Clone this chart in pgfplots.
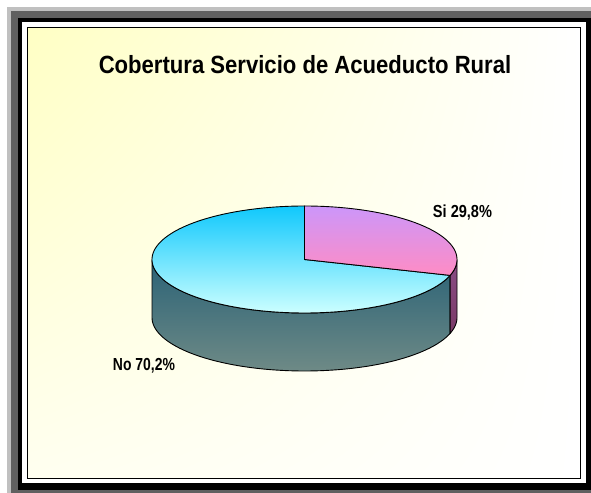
\documentclass[border=0pt]{standalone}
\usepackage{pgfplots}
\pgfplotsset{compat=1.18}
\usepackage{pgfplotstable}
\usetikzlibrary{shadings}
\usepackage{fontspec}
\setmainfont{Liberation Sans}

\definecolor{frLight}{HTML}{C0C0C0}
\definecolor{frDark}{HTML}{606060}
\definecolor{bgYellow}{HTML}{FFFFC4}
\definecolor{bgLow}{HTML}{FFFFF0}
\definecolor{siTop}{HTML}{CC96FA}
\definecolor{siBot}{HTML}{FF8CC4}
\definecolor{noTop}{HTML}{10C8FC}
\definecolor{noBot}{HTML}{CCFFFF}
\definecolor{sideTop}{HTML}{2A6276}
\definecolor{sideBot}{HTML}{6E8A86}
\definecolor{siSideTop}{HTML}{8A4C86}
\definecolor{siSideBot}{HTML}{7A3A66}

\pgfplotstableread{
label value
Si 29.8
No 70.2
}\piedata
\pgfplotstablegetelem{0}{value}\of\piedata \edef\siv{\pgfplotsretval}
\pgfplotstablegetelem{1}{value}\of\piedata \edef\nov{\pgfplotsretval}
% pie geometry (pixels, y upward)
\def\cx{304.5}
\def\cy{233.5}
\def\rx{152.5}
\def\ry{53.5}
\def\dep{58}
\pgfmathsetmacro{\aSplit}{90-3.6*\siv}
\pgfmathsetmacro{\aNoEnd}{90+3.6*\nov}
\pgfmathsetmacro{\cyb}{\cy-\dep}
\pgfmathsetmacro{\xs}{\cx+\rx*cos(\aSplit)}
\pgfmathsetmacro{\ysT}{\cy+\ry*sin(\aSplit)}
\pgfmathsetmacro{\xR}{\cx+\rx}

\begin{document}%
\begin{tikzpicture}
\begin{axis}[
  width=591bp, height=493bp, scale only axis,
  xmin=0, xmax=591, ymin=0, ymax=493,
  enlargelimits=false, hide axis, clip=false,
]
% frame
\fill[white] (axis cs:0,0) rectangle (axis cs:591,493);
\fill[frLight] (axis cs:7,0) rectangle (axis cs:591,486);
\fill[frDark] (axis cs:11,0) rectangle (axis cs:591,482);
\fill[black] (axis cs:18,3) rectangle (axis cs:591,475);
\fill[white] (axis cs:22,9.5) rectangle (axis cs:586,471);
\shade[upper left=bgYellow, upper right=white, lower left=bgLow, lower right=white]
  (axis cs:27.5,14.5) rectangle (axis cs:580.5,465.5);
\draw[black, line width=0.9bp] (axis cs:27.5,14.5) rectangle (axis cs:580.5,465.5);

% side walls
\addplot[draw=black, line width=0.9bp, top color=sideTop, bottom color=sideBot,
  domain=180:\aNoEnd, samples=90, smooth]
  ({\cx+\rx*cos(x)},{\cyb+\ry*sin(x)})
  -- (axis cs:\xs,\ysT)
  arc[start angle=\aNoEnd, end angle=180, x radius=\rx bp, y radius=\ry bp]
  -- cycle;
\addplot[draw=black, line width=0.9bp, top color=siSideTop, bottom color=siSideBot,
  domain=\aSplit:0, samples=20, smooth]
  ({\cx+\rx*cos(x)},{\cyb+\ry*sin(x)})
  -- (axis cs:\xR,\cy)
  arc[start angle=0, end angle=\aSplit, x radius=\rx bp, y radius=\ry bp]
  -- cycle;
% top faces
\addplot[draw=black, line width=0.9bp, top color=noTop, bottom color=noBot,
  domain=90:\aNoEnd, samples=120, smooth]
  ({\cx+\rx*cos(x)},{\cy+\ry*sin(x)}) -- (axis cs:\cx,\cy) -- cycle;
\addplot[draw=black, line width=0.9bp, top color=siTop, bottom color=siBot,
  domain=\aSplit:90, samples=60, smooth]
  ({\cx+\rx*cos(x)},{\cy+\ry*sin(x)}) -- (axis cs:\cx,\cy) -- cycle;

% labels
\node[anchor=base, inner sep=0pt] at (axis cs:305,419)
  {\scalebox{0.887}[1]{\fontsize{25}{30}\selectfont\bfseries Cobertura Servicio de Acueducto Rural}};
\node[anchor=base, inner sep=0pt] at (axis cs:462.5,275.3)
  {\scalebox{0.835}[1]{\fontsize{17.5}{21}\selectfont\bfseries Si 29,8\%}};
\node[anchor=base, inner sep=0pt] at (axis cs:144,122.3)
  {\scalebox{0.80}[1]{\fontsize{17.5}{21}\selectfont\bfseries No 70,2\%}};
\end{axis}
\pgfresetboundingbox
\path[use as bounding box] (current axis.south west) rectangle (current axis.north east);
\end{tikzpicture}%
\end{document}
